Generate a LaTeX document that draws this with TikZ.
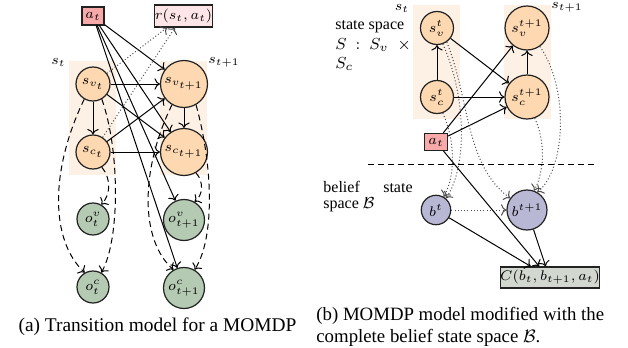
\documentclass[tikz,border=0pt]{standalone}
\usepackage{fontspec}
\setmainfont{Liberation Serif}
\usetikzlibrary{arrows.meta,calc}
\definecolor{orfill}{HTML}{FDD8B0}
\definecolor{bgor}{HTML}{FDF1E5}
\definecolor{actfill}{HTML}{F8A9A9}
\definecolor{rfill}{HTML}{FDE5E8}
\definecolor{obsfill}{HTML}{B4CAB2}
\definecolor{belfill}{HTML}{B8B8D4}
\definecolor{cfill}{HTML}{D2D8CF}
\definecolor{edgecol}{HTML}{222222}
\begin{document}
\begin{tikzpicture}[x=0.5pt,y=-0.5pt,
  every node/.style={font=\scriptsize},
  conn/.style={draw=black,line width=0.5pt},
  dsh/.style={conn,dash pattern=on 3pt off 2pt},
  dot/.style={draw=black!70,line width=0.5pt,dash pattern=on 0.5pt off 1.1pt},
  stnode/.style={circle,draw=edgecol,line width=0.6pt,fill=orfill,inner sep=0pt},
  obsnode/.style={circle,draw=edgecol,line width=0.6pt,fill=obsfill,inner sep=0pt},
  belnode/.style={circle,draw=edgecol,line width=0.6pt,fill=belfill,inner sep=0pt},
  actbox/.style={rectangle,draw=edgecol,line width=0.6pt,fill=actfill,inner sep=0pt},
  rbox/.style={rectangle,draw=edgecol,line width=0.6pt,fill=rfill,inner sep=0pt},
  cbox/.style={rectangle,draw=edgecol,line width=0.6pt,fill=cfill,inner sep=0pt},
  txt/.style={font=\fontsize{8}{9.6}\selectfont,inner sep=0pt},
  captxt/.style={font=\fontsize{9.7}{11}\selectfont,inner sep=0pt}
]
\useasboundingbox (0,0) rectangle (628,348);
% background panels
\fill[bgor] (69,61) rectangle (116,175);
\fill[bgor] (160,61) rectangle (207,175);
\fill[bgor] (413,5) rectangle (460,119);
\fill[bgor] (504,5) rectangle (551,119);

% ---------- left panel ----------
\node[actbox,minimum width=11pt,minimum height=9pt] (atL) at (93,16) {$a_t$};
\node[rbox,minimum width=28.5pt,minimum height=11pt] (r) at (183.5,16) {$r(s_t,a_t)$};
\node (lst) at (58.5,62) {$s_t$};
\node (lst1) at (224,62) {$s_{t+1}$};
\node[stnode,minimum size=17pt] (svt) at (93,84) {$s_{v_t}$};
\node[stnode,minimum size=23.5pt] (svt1) at (184,84) {$s_{v_{t+1}}$};
\node[stnode,minimum size=17pt] (sct) at (93,152) {$s_{c_t}$};
\node[stnode,minimum size=23.5pt] (sct1) at (184,152) {$s_{c_{t+1}}$};
\node[obsnode,minimum size=16pt] (otv) at (93,219) {$o_t^v$};
\node[obsnode,minimum size=20.5pt] (otv1) at (184,220) {$o_{t+1}^v$};
\node[obsnode,minimum size=16pt] (otc) at (93,287) {$o_t^c$};
\node[obsnode,minimum size=20.5pt] (otc1) at (184,288) {$o_{t+1}^c$};

\draw[conn,->] (svt) -- (svt1);
\draw[conn,->] (sct) -- (sct1);
\draw[conn,->] (svt) -- (sct1);
\draw[conn,->] (sct) -- (svt1);
\draw[conn,->] (svt) -- (sct);
\draw[conn,->] (svt1) -- (sct1);
\draw[conn,->] (atL) -- (svt1);
\draw[conn,->] (atL) -- (sct1);
\draw[conn,->] (atL) -- (otv1);
\draw[conn,->] (atL) -- (otc1);
\draw[dot,->] (svt) -- ([xshift=-8.25pt]r.south);
\draw[dot,->] (sct) -- ([xshift=-4.25pt]r.south);
\draw[dsh,->] (svt.240) .. controls (50,170) and (50,240) .. (otc.120);
\draw[dsh,->] (svt.300) .. controls (120,150) and (120,240) .. (otc.60);
\draw[dsh,->] (sct.300) .. controls (112,180) and (110,195) .. (otv.60);
\draw[dsh,->] (svt1.240) .. controls (140,170) and (140,240) .. (otc1.120);
\draw[dsh,->] (svt1.300) .. controls (214,170) and (214,240) .. (otc1.60);
\draw[dsh,->] (sct1.300) .. controls (204,182) and (203,195) .. (otv1.60);

\node[captxt,anchor=base] (capa) at (157.5,331) {(a) Transition model for a MOMDP};

% ---------- right panel ----------
\node (Rst) at (402,8) {$s_t$};
\node (Rst1) at (567,7) {$s_{t+1}$};
\node[stnode,minimum size=16.5pt] (Rsvt) at (437,28) {$s_v^t$};
\node[stnode,minimum size=22pt] (Rsvt1) at (527,28) {$s_v^{t+1}$};
\node[stnode,minimum size=16.5pt] (Rsct) at (437,97) {$s_c^t$};
\node[stnode,minimum size=22pt] (Rsct1) at (527,97) {$s_c^{t+1}$};
\node[actbox,minimum width=11.5pt,minimum height=8.5pt] (Rat) at (436,142) {$a_t$};
\node[belnode,minimum size=14.7pt] (bt) at (436,210) {$b^t$};
\node[belnode,minimum size=20pt] (bt1) at (527,210) {$b^{t+1}$};
\node[cbox,minimum width=45pt,minimum height=10.5pt] (C) at (550,277.5) {$C(b_t,b_{t+1},a_t)$};

\node[txt,anchor=base west] (ss1) at (335,29.3) {state space};
\node[txt,anchor=base west] (ss2) at (335,49.3) {$S$\hspace{4.5pt}$:$\hspace{4.5pt}$S_v$\hspace{4.5pt}$\times$};
\node[txt,anchor=base west] (ss3) at (335,68.3) {$S_c$};
\node[txt,anchor=base west] (bs1) at (323,192) {belief};
\node[txt,anchor=base east] (bs2) at (413,192) {state};
\node[txt,anchor=base west] (bs3) at (323,208) {space $\mathcal{B}$};

\coordinate (dl) at (368,164);
\coordinate (dr) at (594,164);
\draw[conn,dash pattern=on 3pt off 2pt] (dl) -- (dr);

\draw[conn,->] (Rsct) -- (Rsvt);
\draw[conn,->] (Rsct1) -- (Rsvt1);
\draw[conn,->] (Rsvt) -- (Rsct1);
\draw[conn,->] (Rsct) -- (Rsct1);
\draw[conn,->] (Rat) -- (Rsvt1);
\draw[conn,->] (Rat) -- (Rsct1);
\draw[conn,->] (Rat) -- (C.134);
\draw[conn,->] (bt) -- (C.150);
\draw[conn,->] (bt1) -- (C.111);
\draw[dot,->] (bt) -- (bt1);
\draw[dot,->] (Rsvt.-55) .. controls (470,100) and (465,165) .. (bt1.145);
\draw[dot,->] (Rsvt.-70) .. controls (468,100) and (466,170) .. (bt.50);
\draw[dot,->] (Rsct.-70) .. controls (455,140) and (456,175) .. (bt.60);
\draw[dot,->] (Rsvt1.-55) .. controls (570,90) and (565,170) .. (bt1.60);
\draw[dot,->] (Rsct1.-70) .. controls (545,140) and (545,170) .. (bt1.70);

\node[captxt,anchor=base west,font=\fontsize{9.4}{11}\selectfont] (capb1) at (316,320.5) {(b) MOMDP model modified with the};
\node[captxt,anchor=base west,font=\fontsize{9.4}{11}\selectfont] (capb2) at (316,342.5) {complete belief state space $\mathcal{B}$.};
\end{tikzpicture}
\end{document}
